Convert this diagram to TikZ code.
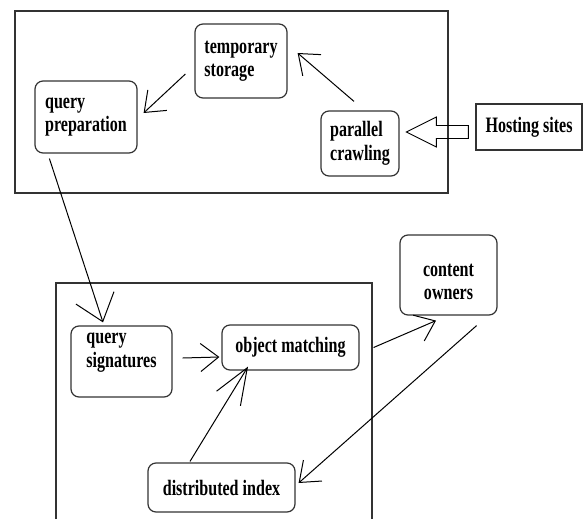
\documentclass[tikz,border=0pt]{standalone}
\usepackage{fontspec}
\newfontfamily\diafont{Liberation Serif}[FakeStretch=0.73]
\usetikzlibrary{arrows.meta}

\begin{document}
\begin{tikzpicture}[x=1pt,y=-1pt,
       box/.style={draw=black!80,line width=1.2pt,rounded corners=8pt,align=left,inner sep=1pt,
         font={\diafont\bfseries\fontsize{22}{23.5}\selectfont}},
       plain box/.style={box,sharp corners},
       frame/.style={draw=black!80,line width=1.2pt},
       conn/.style={-{Straight Barb[length=18pt,width=28pt]},line width=1pt}]
    \useasboundingbox (0,0) rectangle (583,519);
    \draw[frame] (15,11) rectangle (448,193);
    \draw[frame] (56,519) |- (372,283) -- (372,519);

    \node[box,minimum width=92pt,minimum height=74pt] (storage) at (241,61) {temporary\\storage};
    \node[box,minimum width=102pt,minimum height=72pt] (prep) at (86,117) {query\\preparation};
    \node[box,minimum width=78pt,minimum height=65pt] (crawl) at (360,143.5) {parallel\\crawling};
    \node[plain box,minimum width=106pt,minimum height=46pt] (host) at (529,127) {Hosting sites};
    \node[box,text depth=23pt,minimum width=101pt,minimum height=71pt] (sig) at (121.5,361.5) {query\\signatures};
    \node[box,minimum width=137pt,minimum height=45pt] (match) at (290.5,347.5) {object matching};
    \node[box,align=center,text height=50pt,minimum width=97pt,minimum height=80pt] (owners) at (448.5,275) {content\\owners};
    \node[box,minimum width=147pt,minimum height=49pt] (index) at (221.5,487.5) {distributed index};

    \draw[line width=0.9pt] ([xshift=-7pt,yshift=-5pt]host.west) -- ++(0,-6.5) -- ++(-32,0) -- ++(0,-8.5)
       -- ++(-30,15) -- ++(30,15) -- ++(0,-8.5) -- ++(32,0) -- cycle;
    \draw[conn] ([xshift=-6pt,yshift=9pt]crawl.north) -- ([xshift=10pt,yshift=8pt]storage.east);
    \draw[conn] ([xshift=-9pt,yshift=-13pt]storage.west) -- ([xshift=6pt,yshift=4pt]prep.east);
    \draw[conn,-{Straight Barb[length=25pt,width=40pt]}] ([xshift=15pt,yshift=-5pt]prep.south west)
       -- ([xshift=-18.5pt,yshift=3pt]sig.north);
    \draw[conn] ([xshift=10pt,yshift=3.5pt]sig.east) -- ([xshift=-2pt,yshift=-9.5pt]match.west);
    \draw[conn,-{Straight Barb[length=36pt,width=28pt]}] ([xshift=-31.5pt,yshift=1pt]index.north)
       -- ([xshift=-42.5pt,yshift=4pt]match.south);
    \draw[conn] ([xshift=14pt]match.east) -- ([xshift=-12.5pt,yshift=-5pt]owners.south);
    \draw[conn] ([xshift=-21pt,yshift=-10pt]owners.south east) -- ([xshift=3pt,yshift=4.5pt]index.east);
\end{tikzpicture}
\end{document}
